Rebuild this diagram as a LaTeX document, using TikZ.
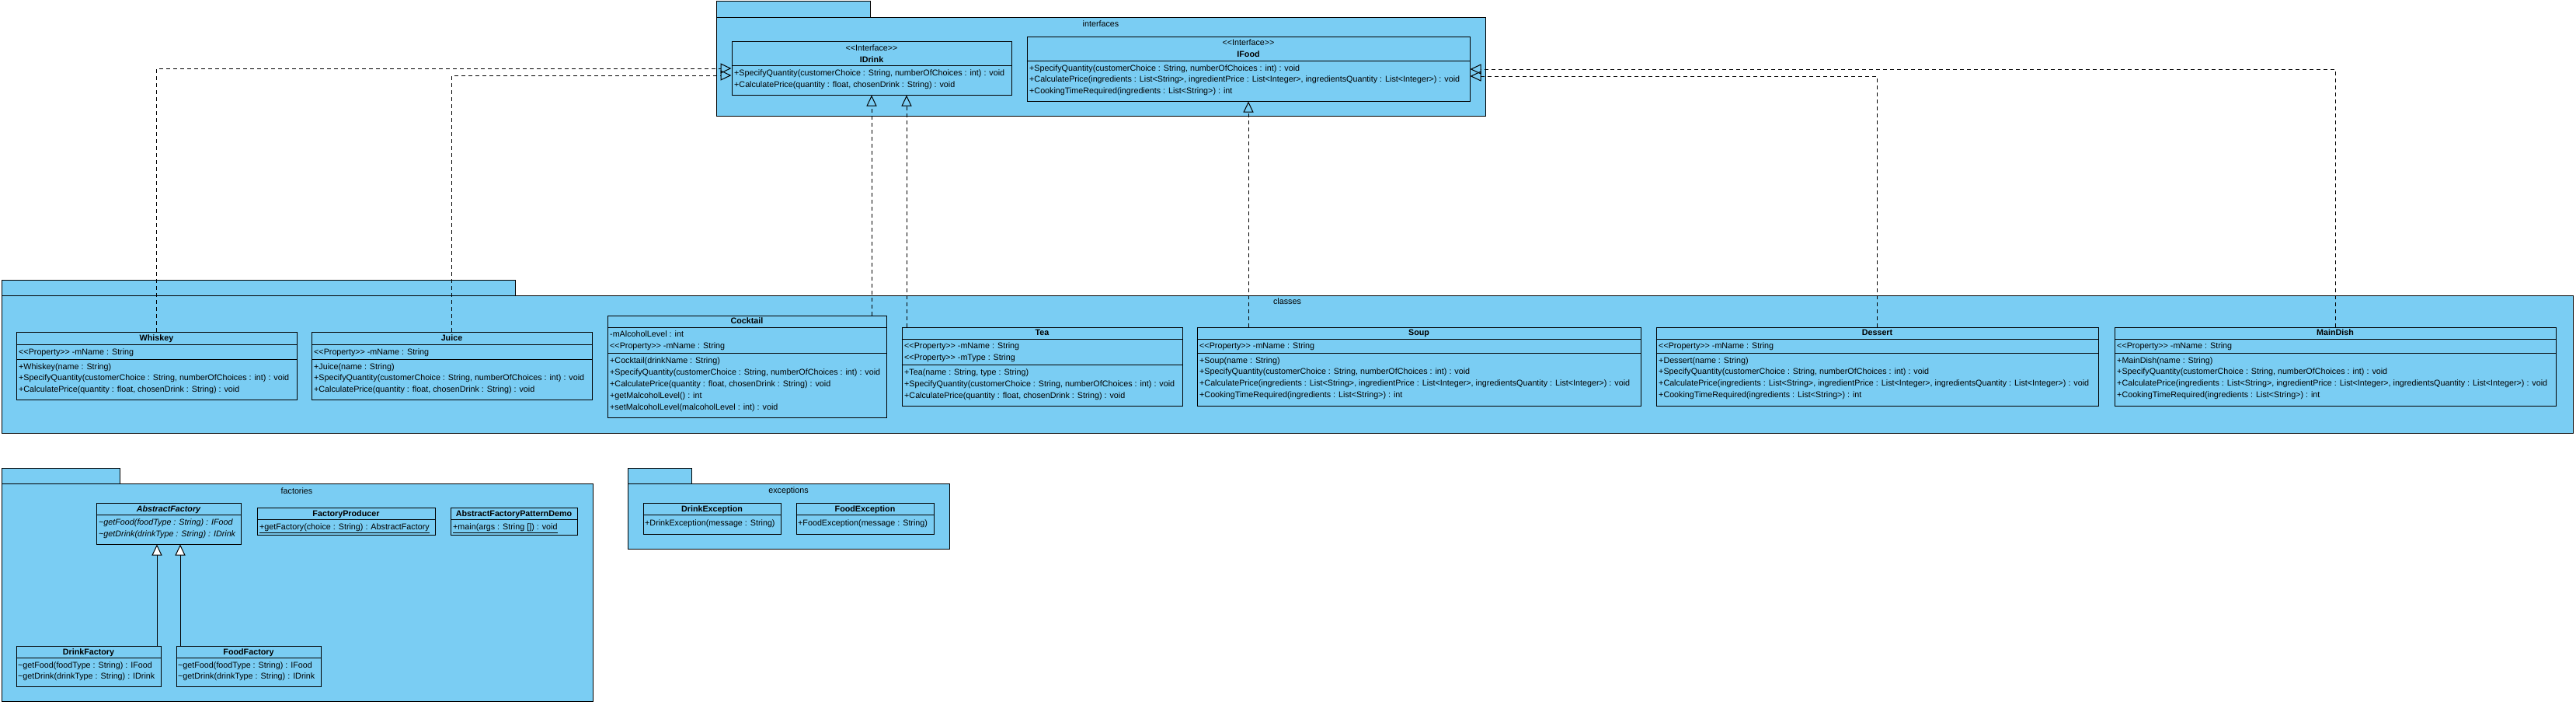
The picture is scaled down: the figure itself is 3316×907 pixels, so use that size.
\documentclass[tikz,border=0pt]{standalone}
\usepackage{fontspec}
\setmainfont{Liberation Sans}
\usetikzlibrary{arrows.meta,fit}
\definecolor{vpblue}{RGB}{122,205,243}
\newcommand\myll{<\kern0pt<}
\newcommand\mygg{>\kern0pt>}
\newcommand\vpfont{\fontsize{10.75pt}{13pt}\selectfont}
\tikzset{
  pkg/.style={draw=black, fill=vpblue, line width=1pt, inner sep=0pt},
  cls/.style={draw=black, fill=vpblue, line width=1pt, inner sep=0pt},
  txt/.style={inner sep=0pt, anchor=west, font=\vpfont, text height=8.3pt, text depth=2pt},
  ctr/.style={txt, anchor=center},
  nm/.style={ctr, font=\vpfont\bfseries},
  inm/.style={ctr, font=\vpfont\bfseries\itshape},
  itxt/.style={txt, font=\vpfont\itshape},
  sep/.style={draw=black, line width=1pt},
  real/.style={line width=1pt, dash pattern=on 5pt off 4pt, -{Triangle[open, length=14pt, width=13pt]}},
  gen/.style={line width=1pt, -{Triangle[fill=white, length=14pt, width=13pt]}},
}
\begin{document}
\begin{tikzpicture}[x=1pt, y=-1pt]
\useasboundingbox (0,0) rectangle (3316,907);
\fill[white] (0,0) rectangle (3316,907);

% ---------------- packages ----------------
\node[pkg, fit={(922,2) (1120,23)}] (ifctab) {};
\node[pkg, fit={(922,23) (1912,149)}] (ifc) {};
\node[ctr] (ifclbl) at (1417,31) {interfaces};

\node[pkg, fit={(2,360) (663,380)}] (clstab) {};
\node[pkg, fit={(2,380) (3312,557)}] (clspkg) {};
\node[ctr] (clslbl) at (1657,388) {classes};

\node[pkg, fit={(2,602) (154,622)}] (factab) {};
\node[pkg, fit={(2,622) (763,902)}] (facpkg) {};
\node[ctr] (faclbl) at (382,632) {factories};

\node[pkg, fit={(808,602) (890,622)}] (exctab) {};
\node[pkg, fit={(808,622) (1222,706)}] (excpkg) {};
\node[ctr] (exclbl) at (1015,631) {exceptions};

% ---------------- interfaces ----------------
\node[cls, fit={(942,54) (1302,122)}] (idrink) {};
\draw[sep] (idrink.west |- 0,84) -- (idrink.east |- 0,84);
\node[ctr] (idrinkst) at (1122,62) {\myll Interface\mygg};
\node[nm] (idrinknm) at (1122,77) {IDrink};
\node[txt] (idrinkm1) at (945,94) {+SpecifyQuantity(customerChoice : String, numberOfChoices : int) : void};
\node[txt] (idrinkm2) at (945,109) {+CalculatePrice(quantity : float, chosenDrink : String) : void};

\node[cls, fit={(1322,48) (1892,130)}] (ifood) {};
\draw[sep] (ifood.west |- 0,78) -- (ifood.east |- 0,78);
\node[ctr] (ifoodst) at (1607,55) {\myll Interface\mygg};
\node[nm] (ifoodnm) at (1607,70) {IFood};
\node[txt] (ifoodm1) at (1325,88) {+SpecifyQuantity(customerChoice : String, numberOfChoices : int) : void};
\node[txt] (ifoodm2) at (1325,102.5) {+CalculatePrice(ingredients : List<String>, ingredientPrice : List<Integer>, ingredientsQuantity : List<Integer>) : void};
\node[txt] (ifoodm3) at (1325,117) {+CookingTimeRequired(ingredients : List<String>) : int};

% ---------------- classes ----------------
% Whiskey
\node[cls, fit={(21,427) (382,514)}] (whiskey) {};
\draw[sep] (whiskey.west |- 0,443) -- (whiskey.east |- 0,443);
\draw[sep] (whiskey.west |- 0,462) -- (whiskey.east |- 0,462);
\node[nm] (whiskeynm) at (201.5,435) {Whiskey};
\node[txt] (whiskeya1) at (24,453) {\myll Property\mygg\ -mName : String};
\node[txt] (whiskeym1) at (24,472) {+Whiskey(name : String)};
\node[txt] (whiskeym2) at (24,486.5) {+SpecifyQuantity(customerChoice : String, numberOfChoices : int) : void};
\node[txt] (whiskeym3) at (24,501) {+CalculatePrice(quantity : float, chosenDrink : String) : void};

% Juice
\node[cls, fit={(401,427) (762,514)}] (juice) {};
\draw[sep] (juice.west |- 0,443) -- (juice.east |- 0,443);
\draw[sep] (juice.west |- 0,462) -- (juice.east |- 0,462);
\node[nm] (juicenm) at (581.5,435) {Juice};
\node[txt] (juicea1) at (404,453) {\myll Property\mygg\ -mName : String};
\node[txt] (juicem1) at (404,472) {+Juice(name : String)};
\node[txt] (juicem2) at (404,486.5) {+SpecifyQuantity(customerChoice : String, numberOfChoices : int) : void};
\node[txt] (juicem3) at (404,501) {+CalculatePrice(quantity : float, chosenDrink : String) : void};

% Cocktail
\node[cls, fit={(782,406) (1141,537)}] (cocktail) {};
\draw[sep] (cocktail.west |- 0,421) -- (cocktail.east |- 0,421);
\draw[sep] (cocktail.west |- 0,454) -- (cocktail.east |- 0,454);
\node[nm] (cocktailnm) at (961.5,413.5) {Cocktail};
\node[txt] (cocktaila1) at (785,430) {-mAlcoholLevel : int};
\node[txt] (cocktaila2) at (785,445) {\myll Property\mygg\ -mName : String};
\node[txt] (cocktailm1) at (785,464) {+Cocktail(drinkName : String)};
\node[txt] (cocktailm2) at (785,479) {+SpecifyQuantity(customerChoice : String, numberOfChoices : int) : void};
\node[txt] (cocktailm3) at (785,494) {+CalculatePrice(quantity : float, chosenDrink : String) : void};
\node[txt] (cocktailm4) at (785,509) {+getMalcoholLevel() : int};
\node[txt] (cocktailm5) at (785,524) {+setMalcoholLevel(malcoholLevel : int) : void};

% Tea
\node[cls, fit={(1161,421) (1522,522)}] (tea) {};
\draw[sep] (tea.west |- 0,436) -- (tea.east |- 0,436);
\draw[sep] (tea.west |- 0,469) -- (tea.east |- 0,469);
\node[nm] (teanm) at (1341.5,428.5) {Tea};
\node[txt] (teaa1) at (1164,445) {\myll Property\mygg\ -mName : String};
\node[txt] (teaa2) at (1164,460) {\myll Property\mygg\ -mType : String};
\node[txt] (team1) at (1164,479) {+Tea(name : String, type : String)};
\node[txt] (team2) at (1164,494) {+SpecifyQuantity(customerChoice : String, numberOfChoices : int) : void};
\node[txt] (team3) at (1164,509) {+CalculatePrice(quantity : float, chosenDrink : String) : void};

% Soup
\node[cls, fit={(1541,421) (2112,522)}] (soup) {};
\draw[sep] (soup.west |- 0,436) -- (soup.east |- 0,436);
\draw[sep] (soup.west |- 0,454) -- (soup.east |- 0,454);
\node[nm] (soupnm) at (1826.5,428.5) {Soup};
\node[txt] (soupa1) at (1544,445) {\myll Property\mygg\ -mName : String};
\node[txt] (soupm1) at (1544,464) {+Soup(name : String)};
\node[txt] (soupm2) at (1544,478.5) {+SpecifyQuantity(customerChoice : String, numberOfChoices : int) : void};
\node[txt] (soupm3) at (1544,493) {+CalculatePrice(ingredients : List<String>, ingredientPrice : List<Integer>, ingredientsQuantity : List<Integer>) : void};
\node[txt] (soupm4) at (1544,508) {+CookingTimeRequired(ingredients : List<String>) : int};

% Dessert
\node[cls, fit={(2132,421) (2701,522)}] (dessert) {};
\draw[sep] (dessert.west |- 0,436) -- (dessert.east |- 0,436);
\draw[sep] (dessert.west |- 0,454) -- (dessert.east |- 0,454);
\node[nm] (dessertnm) at (2416.5,428.5) {Dessert};
\node[txt] (desserta1) at (2135,445) {\myll Property\mygg\ -mName : String};
\node[txt] (dessertm1) at (2135,464) {+Dessert(name : String)};
\node[txt] (dessertm2) at (2135,478.5) {+SpecifyQuantity(customerChoice : String, numberOfChoices : int) : void};
\node[txt] (dessertm3) at (2135,493) {+CalculatePrice(ingredients : List<String>, ingredientPrice : List<Integer>, ingredientsQuantity : List<Integer>) : void};
\node[txt] (dessertm4) at (2135,508) {+CookingTimeRequired(ingredients : List<String>) : int};

% MainDish
\node[cls, fit={(2722,421) (3290,522)}] (maindish) {};
\draw[sep] (maindish.west |- 0,436) -- (maindish.east |- 0,436);
\draw[sep] (maindish.west |- 0,454) -- (maindish.east |- 0,454);
\node[nm] (maindishnm) at (3006,428.5) {MainDish};
\node[txt] (maindisha1) at (2725,445) {\myll Property\mygg\ -mName : String};
\node[txt] (maindishm1) at (2725,464) {+MainDish(name : String)};
\node[txt] (maindishm2) at (2725,478.5) {+SpecifyQuantity(customerChoice : String, numberOfChoices : int) : void};
\node[txt] (maindishm3) at (2725,493) {+CalculatePrice(ingredients : List<String>, ingredientPrice : List<Integer>, ingredientsQuantity : List<Integer>) : void};
\node[txt] (maindishm4) at (2725,508) {+CookingTimeRequired(ingredients : List<String>) : int};

% ---------------- factories ----------------
\node[cls, fit={(124,647) (310,700)}] (absf) {};
\draw[sep] (absf.west |- 0,662) -- (absf.east |- 0,662);
\node[inm] (absfnm) at (217,655) {AbstractFactory};
\node[itxt] (absfm1) at (127,672) {\textasciitilde getFood(foodType : String) : IFood};
\node[itxt] (absfm2) at (127,687) {\textasciitilde getDrink(drinkType : String) : IDrink};

\node[cls, fit={(331,653) (560,688)}] (facprod) {};
\draw[sep] (facprod.west |- 0,668) -- (facprod.east |- 0,668);
\node[nm] (facprodnm) at (445.5,661) {FactoryProducer};
\node[txt] (facprodm1) at (334,678) {\underline{+getFactory(choice : String) : AbstractFactory}};

\node[cls, fit={(580,653) (743,688)}] (demo) {};
\draw[sep] (demo.west |- 0,668) -- (demo.east |- 0,668);
\node[nm] (demonm) at (661.5,661) {AbstractFactoryPatternDemo};
\node[txt] (demom1) at (583,678) {\underline{+main(args : String []) : void}};

\node[cls, fit={(21,831) (207,883)}] (drinkf) {};
\draw[sep] (drinkf.west |- 0,846) -- (drinkf.east |- 0,846);
\node[nm] (drinkfnm) at (114,839) {DrinkFactory};
\node[txt] (drinkfm1) at (23,856) {\textasciitilde getFood(foodType : String) : IFood};
\node[txt] (drinkfm2) at (23,870.5) {\textasciitilde getDrink(drinkType : String) : IDrink};

\node[cls, fit={(227,831) (413,883)}] (foodf) {};
\draw[sep] (foodf.west |- 0,846) -- (foodf.east |- 0,846);
\node[nm] (foodfnm) at (320,839) {FoodFactory};
\node[txt] (foodfm1) at (229,856) {\textasciitilde getFood(foodType : String) : IFood};
\node[txt] (foodfm2) at (229,870.5) {\textasciitilde getDrink(drinkType : String) : IDrink};

% ---------------- exceptions ----------------
\node[cls, fit={(828,647) (1005,687)}] (drinkex) {};
\draw[sep] (drinkex.west |- 0,662) -- (drinkex.east |- 0,662);
\node[nm] (drinkexnm) at (916.5,655) {DrinkException};
\node[txt] (drinkexm1) at (830,673) {+DrinkException(message : String)};

\node[cls, fit={(1025,647) (1202,687)}] (foodex) {};
\draw[sep] (foodex.west |- 0,662) -- (foodex.east |- 0,662);
\node[nm] (foodexnm) at (1113.5,655) {FoodException};
\node[txt] (foodexm1) at (1027,673) {+FoodException(message : String)};

% ---------------- connectors ----------------
\coordinate (juicey) at (0,97);
\coordinate (desserty) at (0,98);
\coordinate (teax) at ([xshift=45pt]idrink.south);
\draw[real] (whiskey.north) |- (idrink.west);
\draw[real] (juice.north) |- (idrink.west |- juicey);
\draw[real] (cocktail.north -| idrink.south) -- (idrink.south);
\draw[real] (tea.north -| teax) -- (teax);
\draw[real] (soup.north -| ifood.south) -- (ifood.south);
\draw[real] (maindish.north) |- (ifood.east);
\draw[real] (dessert.north) |- (ifood.east |- desserty);

\coordinate (gena) at ([xshift=-15pt]absf.south);
\coordinate (genb) at ([xshift=15pt]absf.south);
\draw[gen] (drinkf.north -| gena) -- (gena);
\draw[gen] (foodf.north -| genb) -- (genb);
\end{tikzpicture}
\end{document}
